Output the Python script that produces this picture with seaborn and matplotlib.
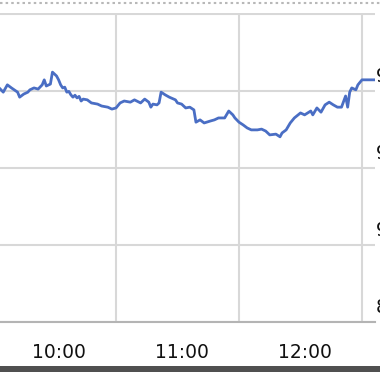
import matplotlib
matplotlib.use("Agg")
import matplotlib.pyplot as plt
import seaborn as sns
import pandas as pd
from matplotlib.lines import Line2D
from matplotlib.patches import Rectangle
import matplotlib.transforms as mtransforms

# ---- data ----
times = ["9:33", "9:35", "9:37", "9:39", "9:42", "9:43", "9:45", "9:47", "9:48", "9:50",
         "9:52", "9:54", "9:55", "9:56", "9:58", "9:59", "10:01", "10:02", "10:03", "10:04",
         "10:05", "10:06", "10:07", "10:08", "10:09", "10:10", "10:11", "10:12", "10:13", "10:14",
         "10:16", "10:18", "10:21", "10:23", "10:26",
         "10:28", "10:30", "10:32", "10:34", "10:37", "10:39", "10:42", "10:44", "10:46", "10:47",
         "10:48", "10:50", "10:51", "10:52", "10:54", "10:56", "10:59", "11:00", "11:02", "11:04",
         "11:06", "11:08", "11:09", "11:11", "11:13", "11:16", "11:18", "11:20", "11:23", "11:25",
         "11:27", "11:28", "11:30", "11:32", "11:34", "11:36", "11:39", "11:41", "11:43", "11:45",
         "11:48", "11:50", "11:51", "11:53", "11:55", "11:57", "12:00", "12:02", "12:05", "12:06",
         "12:08", "12:10", "12:12", "12:14", "12:16", "12:18", "12:20", "12:22", "12:23", "12:24",
         "12:25", "12:27", "12:28", "12:30", "12:39"]
prices = [950.8, 949.7, 951.6, 950.8, 949.7, 948.4, 949.2, 949.7, 950.3, 950.8,
          950.5, 951.6, 952.9, 951.3, 951.8, 954.9, 953.9, 952.9, 951.6, 950.8,
          951.0, 949.7, 949.9, 949.0, 948.4, 948.9, 948.2, 948.6, 947.4, 947.9,
          947.7, 946.9, 946.6, 946.1, 945.8,
          945.3, 945.6, 946.9, 947.4, 947.1, 947.7, 946.9, 947.9, 947.1, 945.8,
          946.6, 946.4, 946.9, 949.7, 949.0, 948.4, 947.7, 946.9, 946.6, 945.6,
          945.8, 945.1, 941.9, 942.5, 941.7, 942.2, 942.5, 943.0, 943.0, 944.8,
          943.8, 943.0, 941.9, 941.2, 940.4, 939.9, 939.9, 940.1, 939.6, 938.6,
          938.8, 938.1, 939.1, 939.9, 941.7, 943.0, 944.3, 943.8, 944.8, 943.8,
          945.6, 944.5, 946.4, 947.1, 946.4, 945.8, 945.8, 948.7, 945.8, 949.7,
          950.8, 950.3, 951.6, 952.9, 952.9]

grid_times = ["10:30", "11:30", "12:30"]
label_times = ["10:00", "11:00", "12:00"]
y_ticks = [890, 910, 930, 950, 970]
y_labels = ["890", "910", "930", "950"]


def to_min(s):
    h, m = s.split(":")
    return int(h) * 60 + int(m)


df = pd.DataFrame({"t": [to_min(s) for s in times], "price": prices})

sns.set_style("white")
plt.rcParams["font.family"] = ["DejaVu Sans"]

W, H = 380, 372
fig = plt.figure(figsize=(W / 100, H / 100), dpi=100)
# axes spans pixel x 0..375, y 13..322 (from top)
ax = fig.add_axes([0, (H - 322) / H, 375 / W, 309 / H])

sns.lineplot(data=df, x="t", y="price", ax=ax, color="#4a6ec4", linewidth=2.0)

px_per_min = 123 / 60.0
x0 = 630 - 116 / px_per_min
ax.set_xticks([to_min(s) for s in grid_times])
ax.set_xticklabels([])
ax.set_yticks(y_ticks)
ax.set_yticklabels([])
ax.set_xlim(x0, x0 + 375 / px_per_min)
ax.set_ylim(890, 970 + 1 / 3.85)

grid_col = "#d8d8d8"
ax.grid(True, color=grid_col, linewidth=1.5)
ax.set_axisbelow(True)
ax.tick_params(axis="x", direction="out", length=8, width=1.5, color="#c4c4c4", labelbottom=False)
ax.tick_params(axis="y", length=0, labelleft=False, labelright=False)

for s in ["top", "left", "right"]:
    ax.spines[s].set_visible(False)
ax.spines["bottom"].set_color("#b4b4b4")
ax.spines["bottom"].set_linewidth(1.5)
ax.set_xlabel("")
ax.set_ylabel("")

# x labels (centred at the hour)
xtrans = mtransforms.blended_transform_factory(ax.transData, ax.transAxes)
for s in label_times:
    ax.annotate(s, xy=(to_min(s), 0), xycoords=xtrans, xytext=(3.3, -15),
                textcoords="offset points", ha="center", va="top",
                fontsize=13.5, color="#111111", annotation_clip=False)

# y labels (right side, above gridlines, cut by the frame edge)
ytrans = mtransforms.blended_transform_factory(ax.transAxes, ax.transData)
for v in y_labels:
    ax.annotate(v, xy=(1, float(v)), xycoords=ytrans, xytext=(0.8, 3.3),
                textcoords="offset points", ha="left", va="bottom",
                fontsize=13.5, color="#111111", annotation_clip=False)

# decorative frame pieces
fig.add_artist(Line2D([0, 1], [1 - 3 / H, 1 - 3 / H], transform=fig.transFigure,
                      color="#b8b8b8", linewidth=1.5, linestyle=(0, (1.2, 1.5))))
fig.add_artist(Rectangle((0, 0), 1, 6 / H, transform=fig.transFigure,
                         facecolor="#505050", edgecolor="none"))

fig.savefig("out.png", dpi=100)
